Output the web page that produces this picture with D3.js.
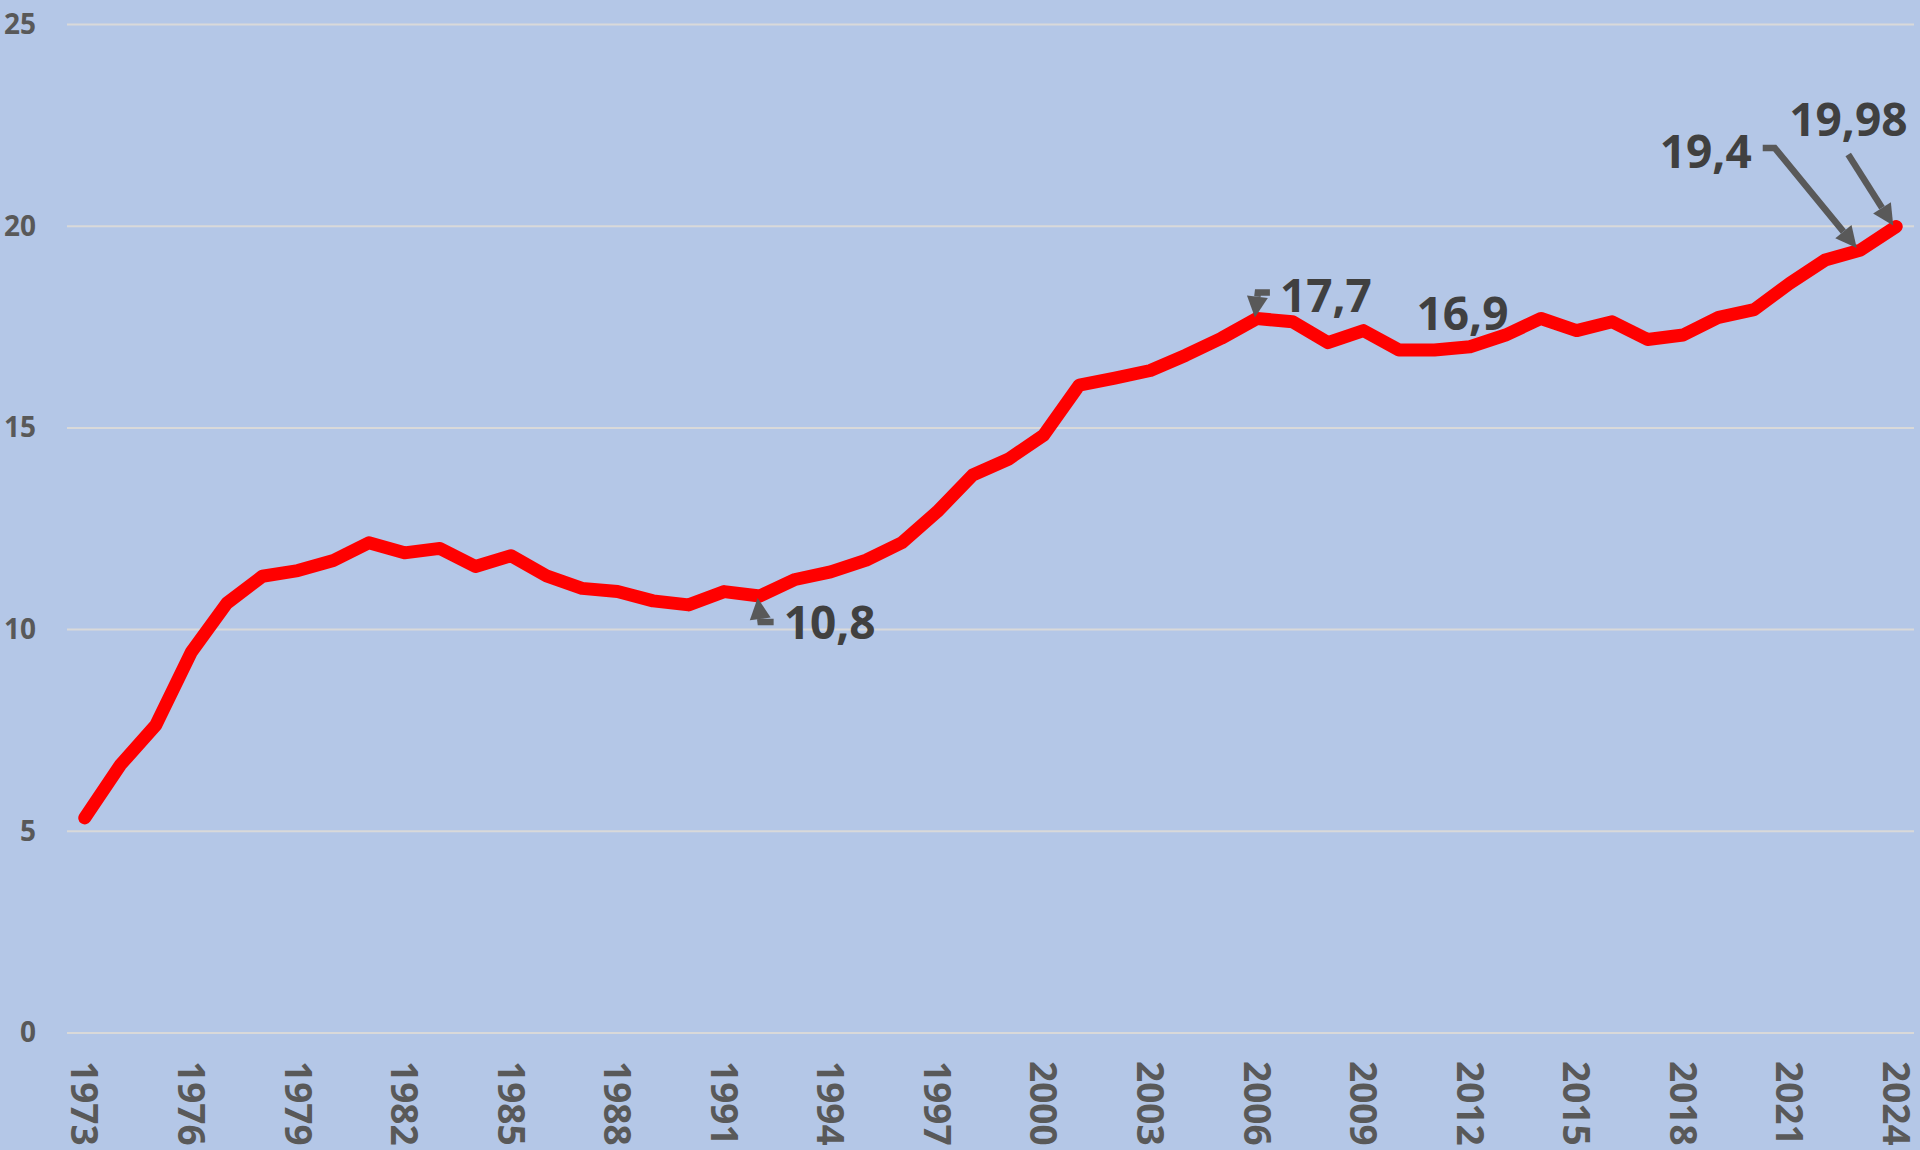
<!DOCTYPE html>
<html>
<head>
<meta charset="utf-8">
<script src="https://cdn.jsdelivr.net/npm/d3@7"></script>
<style>
  html, body { margin: 0; padding: 0; background: #B4C7E7; overflow: hidden; }
  svg { display: block; font-family: "Open Sans", "DejaVu Sans", sans-serif; }
</style>
</head>
<body>
<div id="container"></div>
<script>
const years = d3.range(1973, 2025);
const values = [
    5.32, 6.63, 7.62, 9.43, 10.64, 11.31, 11.45, 11.70, 12.14, 11.89,
    12.00, 11.55, 11.82, 11.32, 11.01, 10.93, 10.70, 10.60, 10.93, 10.82,
    11.23, 11.42, 11.71, 12.14, 12.91, 13.82, 14.21, 14.81, 16.05, 16.22,
    16.41, 16.79, 17.21, 17.70, 17.62, 17.10, 17.40, 16.92, 16.92, 17.00,
    17.29, 17.70, 17.40, 17.62, 17.18, 17.29, 17.73, 17.92, 18.57, 19.15,
    19.40, 19.98
];
const yTicks = [0, 5, 10, 15, 20, 25];
const xTickYears = d3.range(1973, 2025, 3);

const labelYears = [1992, 2006, 2011, 2023, 2024];
const labelTexts = ["10,8", "17,7", "16,9", "19,4", "19,98"];

const dataset = years.map((yr, i) => ({ year: yr, value: values[i] }));

const width = 1920;
const height = 1150;
const margin = { top: 24, right: 6, bottom: 117.5, left: 67 };

const svg = d3.select("#container").append("svg")
    .attr("width", width)
    .attr("height", height);

svg.append("rect")
    .attr("width", width)
    .attr("height", height)
    .attr("fill", "#B4C7E7");

const x = d3.scalePoint()
    .domain(years)
    .range([margin.left, width - margin.right])
    .padding(0.5);

const y = d3.scaleLinear()
    .domain([0, 25])
    .range([height - margin.bottom, margin.top]);

// gridlines
const yGrid = d3.axisLeft(y)
    .tickValues(yTicks)
    .tickSize(-(width - margin.left - margin.right))
    .tickFormat("");
svg.append("g")
    .attr("transform", `translate(${margin.left},0)`)
    .call(yGrid)
    .call(g => g.select(".domain").remove())
    .call(g => g.selectAll("line").attr("stroke", "#D9D9D9").attr("stroke-width", 2));

// y labels
svg.append("g")
    .selectAll("text")
    .data(yTicks)
    .join("text")
    .attr("x", 36)
    .attr("y", d => y(d))
    .attr("dy", "0.35em")
    .attr("text-anchor", "end")
    .attr("fill", "#595959")
    .attr("font-size", 28)
    .attr("font-weight", "bold")
    .text(d => d);

// x labels, rotated
svg.append("g")
    .selectAll("text")
    .data(xTickYears)
    .join("text")
    .attr("transform", d => `translate(${x(d)},1061) rotate(90)`)
    .attr("dy", "0.36em")
    .attr("text-anchor", "start")
    .attr("fill", "#595959")
    .attr("font-size", 37)
    .attr("font-weight", "bold")
    .text(d => d);

// the line
const line = d3.line()
    .x(d => x(d.year))
    .y(d => y(d.value));

svg.append("path")
    .datum(dataset)
    .attr("fill", "none")
    .attr("stroke", "#FF0000")
    .attr("stroke-width", 13)
    .attr("stroke-linecap", "round")
    .attr("stroke-linejoin", "round")
    .attr("d", line);

// callout placement relative to the point (text offset, leader points)
const callouts = [
    { tx: 24, ty: 43, anchor: "start", leader: [[14, 26], [1, 26], [-2, 2]] },
    { tx: 23, ty: -6, anchor: "start", leader: [[13, -26], [1, -26], [-2, -1]] },
    { tx: -18, ty: -20, anchor: "start", leader: null },
    { tx: -109, ty: -82, anchor: "end", leader: [[-98, -102], [-86, -102], [-4, -2]] },
    { tx: -107, ty: -91, anchor: "start", leader: [[-48, -72], [-3, -1]] }
];

const annot = svg.append("g");

labelYears.forEach((yr, i) => {
    const d = dataset.find(p => p.year === yr);
    const px = x(d.year);
    const py = y(d.value);
    const c = callouts[i];

    if (c.leader) {
        const pts = c.leader.map(p => [px + p[0], py + p[1]]);
        const tip = pts[pts.length - 1];
        const prev = pts[pts.length - 2];
        const ang = Math.atan2(tip[1] - prev[1], tip[0] - prev[0]);
        const len = 21, half = 10.5;
        const base = [tip[0] - len * Math.cos(ang), tip[1] - len * Math.sin(ang)];
        const shaft = pts.slice(0, -1).concat([base]);

        annot.append("path")
            .attr("d", d3.line()(shaft))
            .attr("fill", "none")
            .attr("stroke", "#595959")
            .attr("stroke-width", 6.5)
            .attr("stroke-linejoin", "miter");

        const nx = -Math.sin(ang), ny = Math.cos(ang);
        annot.append("path")
            .attr("d", d3.line()([
                tip,
                [base[0] + nx * half, base[1] + ny * half],
                [base[0] - nx * half, base[1] - ny * half]
            ]) + "Z")
            .attr("fill", "#595959");
    }

    annot.append("text")
        .attr("x", px + c.tx)
        .attr("y", py + c.ty)
        .attr("text-anchor", c.anchor)
        .attr("fill", "#404040")
        .attr("font-size", 46)
        .attr("font-weight", "bold")
        .text(labelTexts[i]);
});
</script>
</body>
</html>
